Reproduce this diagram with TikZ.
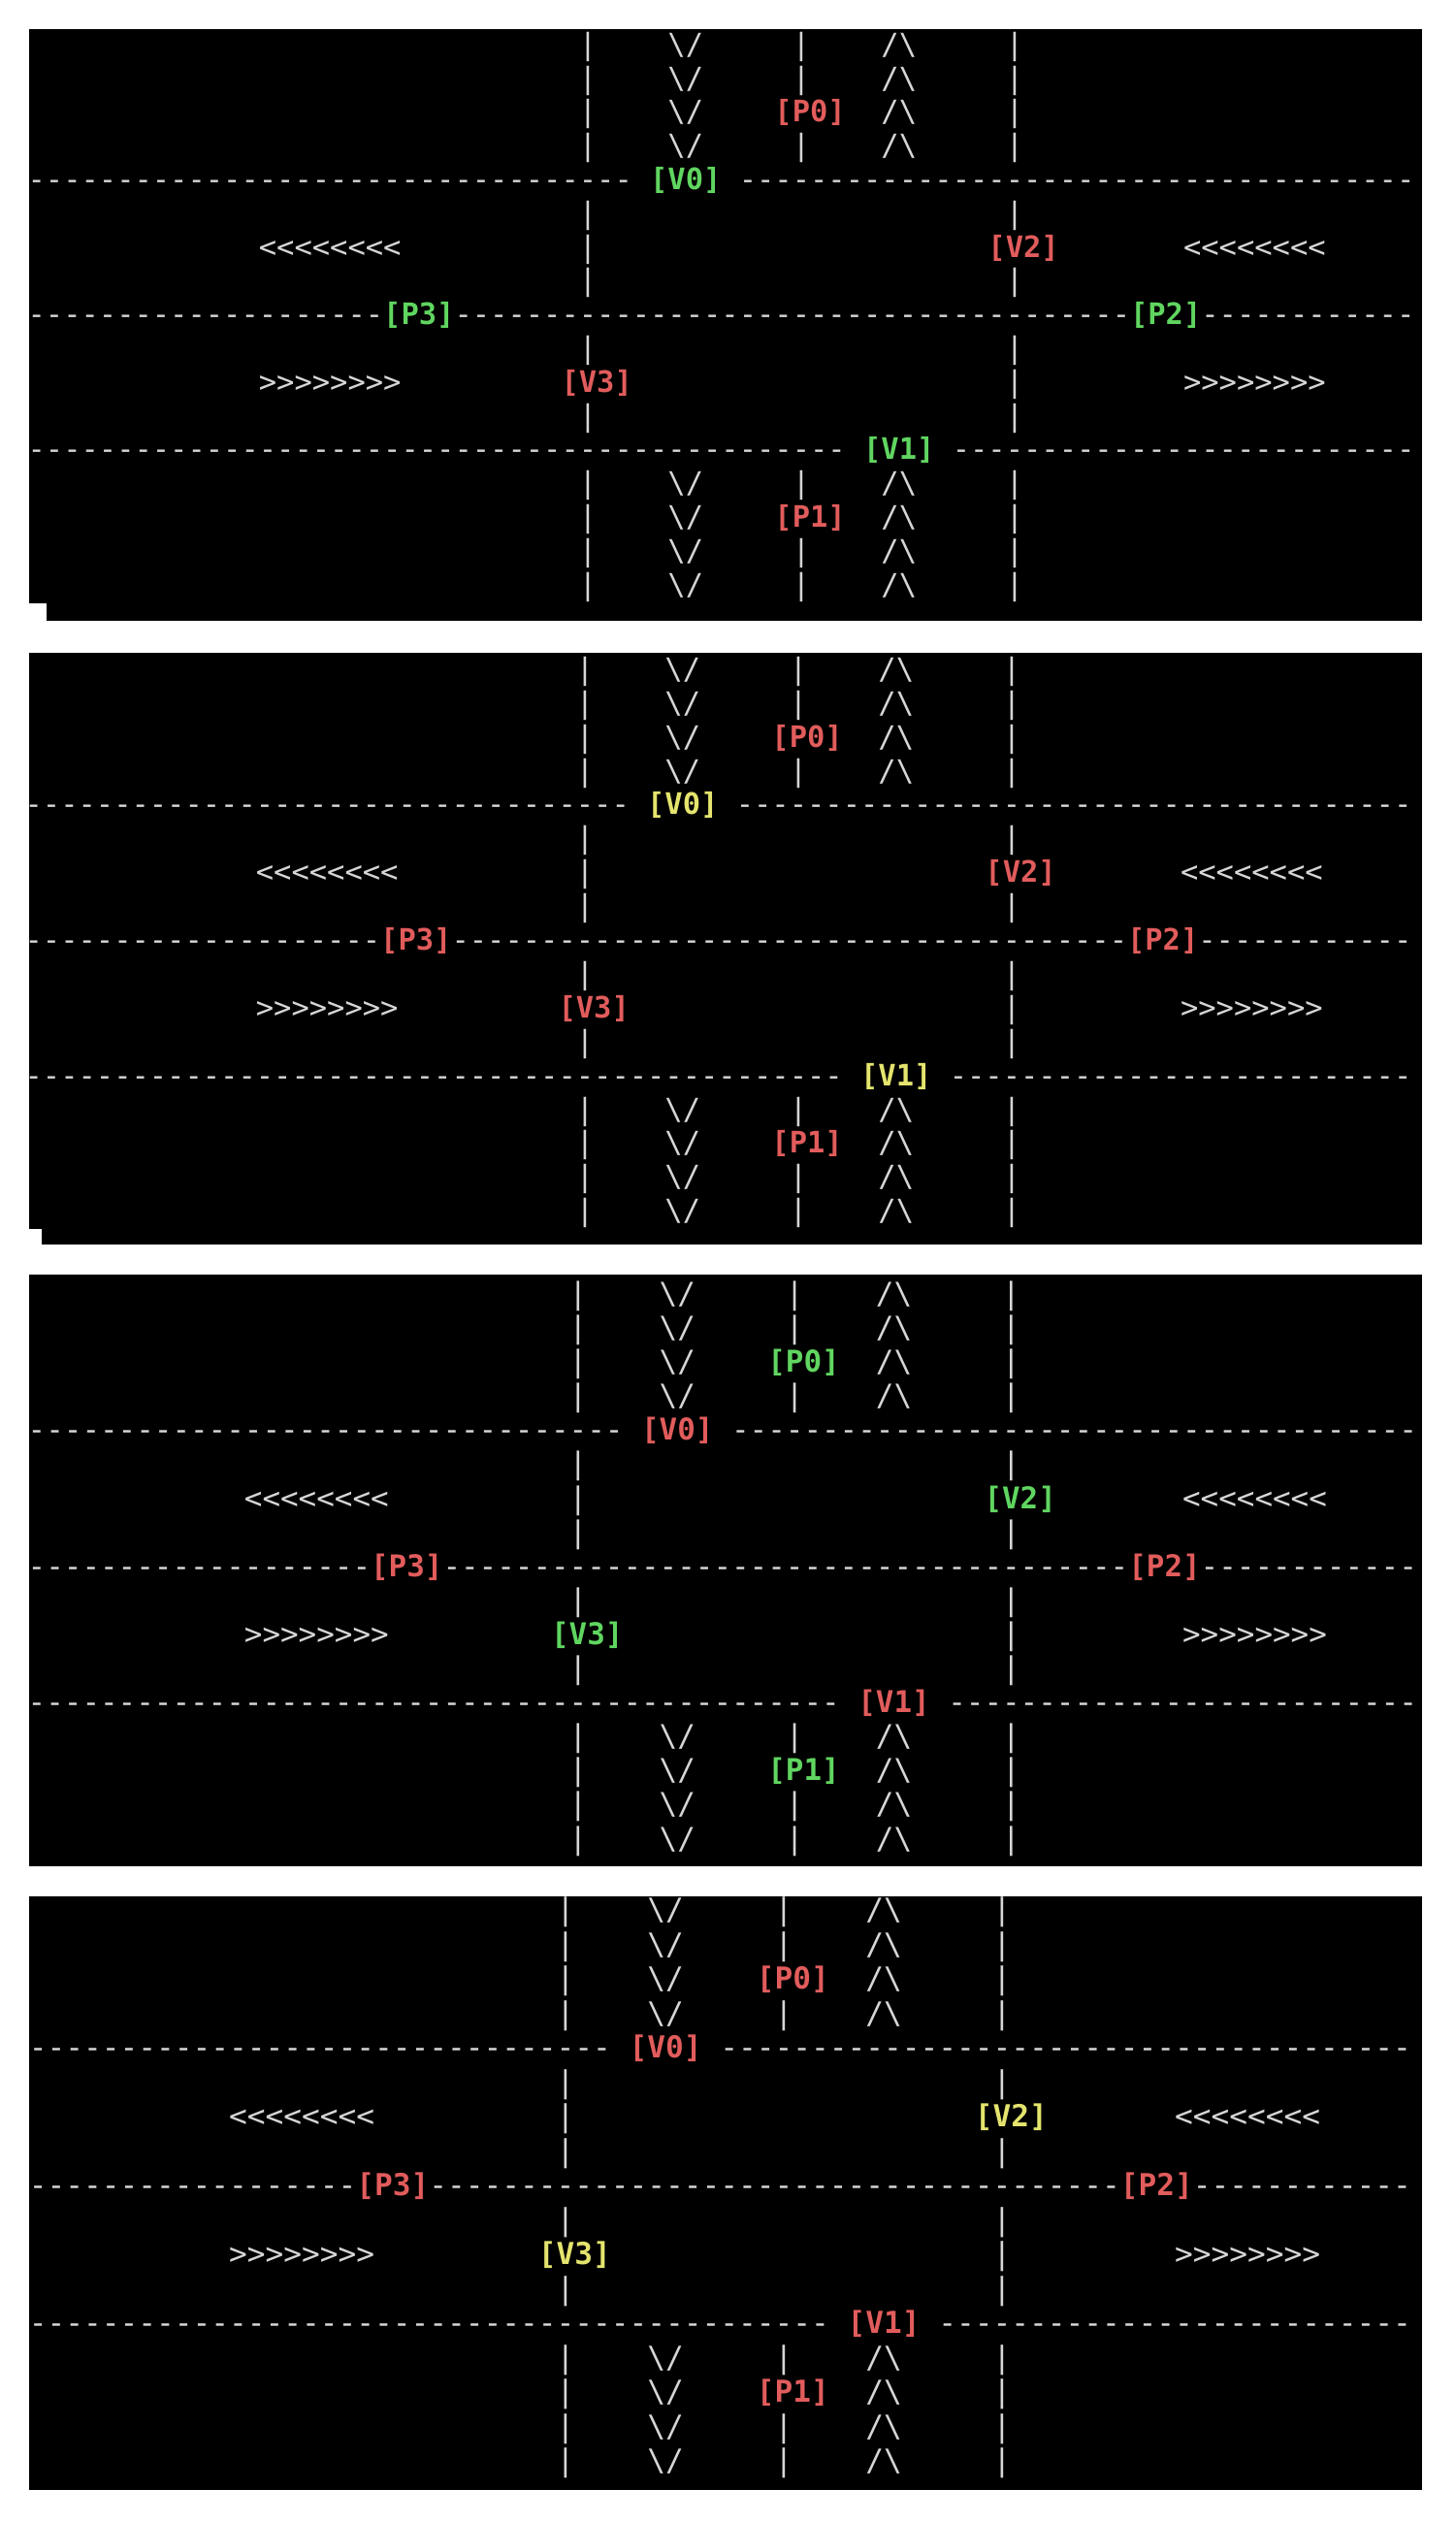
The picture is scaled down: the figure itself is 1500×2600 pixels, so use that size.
\documentclass[tikz,border=0pt]{standalone}
\usepackage{fontspec}
\newfontfamily\termfont{DejaVu Sans Mono}

\definecolor{termgray}{RGB}{214,214,214}
\definecolor{termred}{RGB}{226,92,92}
\definecolor{termgreen}{RGB}{96,214,96}
\definecolor{termyellow}{RGB}{228,228,110}

\tikzset{
  glyph/.style={anchor=base west, inner sep=0pt, outer sep=0pt, text=termgray},
  signal/.style={glyph, text=#1, font={\termfont\bfseries\fontsize{\termsize pt}{\termsize pt}\selectfont}},
  screen/.style={fill=black},
}

% one terminal frame of the crossing
% #1 name, #2 x of left kerb, #3 y of first row, #4 cell width, #5 row pitch,
% #6 V0/V1, #7 V2/V3, #8 P0/P1, #9 P2/P3
\newcommand{\crossing}[9]{%
\pgfmathsetmacro{\termsize}{#4*0.25/0.602}
\pgfmathtruncatemacro{\firstcol}{ceil((33.7-#2)/#4)}
\begin{scope}[shift={(#2,#3)}, x=#4*0.25pt, y=-#5*0.25pt,
  font={\termfont\fontsize{\termsize pt}{\termsize pt}\selectfont}]
% north and south arms
\foreach \row in {0,1,2,3,13,14,15,16}
{
\node[glyph] (#1-kl\row) at (-0.5,\row+0.24) {|};
\node[glyph] (#1-dn\row) at (4.5,\row+0.24) {\textbackslash};
\node[glyph] (#1-dm\row) at (5.5,\row+0.24) {/};
\node[glyph] (#1-um\row) at (16.5,\row+0.24) {/};
\node[glyph] (#1-up\row) at (17.5,\row+0.24) {\textbackslash};
\node[glyph] (#1-kr\row) at (23.5,\row+0.24) {|};
}
\foreach \row in {0,1,3,13,15,16}
\node[glyph] (#1-md\row) at (11.5,\row+0.24) {|};
\node[signal=#8] (#1P0) at (10.5,2.24) {[P0]};
\node[signal=#8] (#1P1) at (10.5,14.24) {[P1]};

% dashed lines
\foreach \col in {\firstcol,...,2}
\node[glyph] (#1-da\col) at (\col-0.5,4.24) {-};
\foreach \col in {9,...,46}
\node[glyph] (#1-db\col) at (\col-0.5,4.24) {-};
\node[signal=#6] (#1V0) at (3.5,4.24) {[V0]};

\foreach \col in {\firstcol,...,-12}
\node[glyph] (#1-dc\col) at (\col-0.5,8.24) {-};
\foreach \col in {-7,...,30}
\node[glyph] (#1-dd\col) at (\col-0.5,8.24) {-};
\foreach \col in {35,...,46}
\node[glyph] (#1-de\col) at (\col-0.5,8.24) {-};
\node[signal=#9] (#1P3) at (-11.5,8.24) {[P3]};
\node[signal=#9] (#1P2) at (30.5,8.24) {[P2]};

\foreach \col in {\firstcol,...,14}
\node[glyph] (#1-df\col) at (\col-0.5,12.24) {-};
\foreach \col in {21,...,46}
\node[glyph] (#1-dg\col) at (\col-0.5,12.24) {-};
\node[signal=#6] (#1V1) at (15.5,12.24) {[V1]};

% east and west arms
\foreach \row in {5,6,7,9,11}
\node[glyph] (#1-kl\row) at (-0.5,\row+0.24) {|};
\foreach \row in {5,7,9,10,11}
\node[glyph] (#1-kr\row) at (23.5,\row+0.24) {|};
\node[signal=#7] (#1V2) at (22.5,6.24) {[V2]};
\node[signal=#7] (#1V3) at (-1.5,10.24) {[V3]};
\foreach \col in {-18,...,-11}
{
\node[glyph] (#1-wl\col) at (\col-0.5,6.24) {<};
\node[glyph] (#1-wr\col) at (\col-0.5,10.24) {>};
}
\foreach \col in {34,...,41}
{
\node[glyph] (#1-el\col) at (\col-0.5,6.24) {<};
\node[glyph] (#1-er\col) at (\col-0.5,10.24) {>};
}
\end{scope}
}

\begin{document}
\begin{tikzpicture}[x=0.25pt, y=-0.25pt]
\fill[white] (0,0) rectangle (1500,2600);
\useasboundingbox (0,0) rectangle (1500,2600);

\fill[screen] (30,30) rectangle (1466,640);
\fill[screen] (30,673) rectangle (1466,1283);
\fill[screen] (30,1314) rectangle (1466,1924);
\fill[screen] (30,1955) rectangle (1466,2567);
\fill[white] (30,622) rectangle (48,640);
\fill[white] (30,1267) rectangle (43,1283);

\crossing{a}{606}{48}{18.33}{34.8}{termgreen}{termred}{termred}{termgreen}
\crossing{b}{603}{692}{18.33}{34.9}{termyellow}{termred}{termred}{termred}
\crossing{c}{596}{1336}{18.6}{35.1}{termred}{termgreen}{termgreen}{termred}
\crossing{d}{583}{1971}{18.75}{35.5}{termred}{termyellow}{termred}{termred}
\end{tikzpicture}
\end{document}
